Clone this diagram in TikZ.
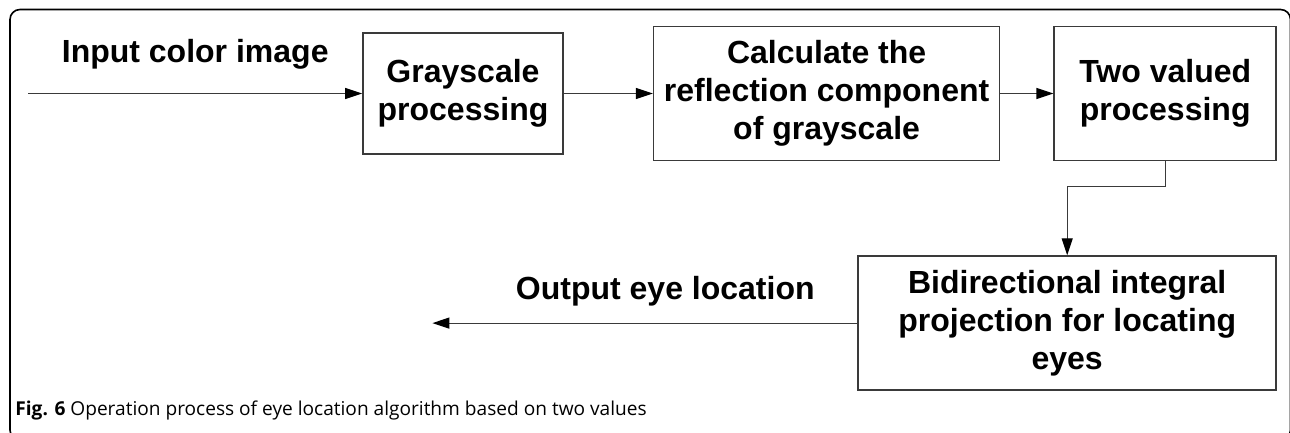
\documentclass[tikz,border=0pt]{standalone}
\usepackage{fontspec}
\setmainfont{Liberation Sans}
\newfontfamily\capfont{Open Sans}
\usetikzlibrary{arrows.meta, positioning}
\definecolor{edge}{HTML}{3A3A3A}
\tikzset{
  proc/.style  = {rectangle, draw=edge, line width=0.8pt, align=center,
                  inner sep=2pt, font=\fontsize{16}{19}\selectfont\bfseries},
  lbl/.style   = {inner sep=0pt, font=\fontsize{16}{19}\selectfont\bfseries},
  flow/.style  = {-{Triangle[length=8.5pt, width=5.5pt, color=black]},
                  line width=0.6pt, draw=edge},
  frame/.style = {draw, line width=0.8pt, rounded corners=5pt},
}

\begin{document}
\begin{tikzpicture}[x=0.5pt, y=-0.5pt, node distance=44.5pt]
  \useasboundingbox (0,0) rectangle (1290,433);
  \draw[frame] (10,9.5) rectangle (1290.5,440);

  \node[proc, minimum width=100pt, minimum height=60.5pt] (gray) at (463,93.5)
    {Grayscale\\processing};
  \node[proc, minimum width=173pt, minimum height=67pt, right=of gray] (refl)
    {Calculate the\\reflection component\\of grayscale};
  \node[proc, minimum width=111pt, minimum height=67pt, right=26.5pt of refl] (bin)
    {Two valued\\processing};
  \node[proc, minimum width=209pt, minimum height=67pt,
        below=47pt of bin.south east, anchor=north east] (proj)
    {Bidirectional integral\\projection for locating\\eyes};

  \coordinate[left=167pt of gray.west] (src);
  \coordinate[left=212.5pt of proj.west] (sink);

  \draw[flow] (src) -- node[lbl, above=11.6pt] {Input color image} (gray);
  \draw[flow] (gray) -- (refl);
  \draw[flow] (refl) -- (bin);
  \draw[flow] (bin.south) -- ++(0,-12.5pt) -| (proj.north);
  \draw[flow] (proj) -- node[lbl, above=8.1pt, pos=0.452] {Output eye location} (sink);

  \node[anchor=base west, inner sep=0pt, font=\capfont\fontsize{9.55}{11}\selectfont]
    (cap) at (15,415)
    {\textbf{Fig. 6} Operation process of eye location algorithm based on two values};
\end{tikzpicture}
\end{document}
